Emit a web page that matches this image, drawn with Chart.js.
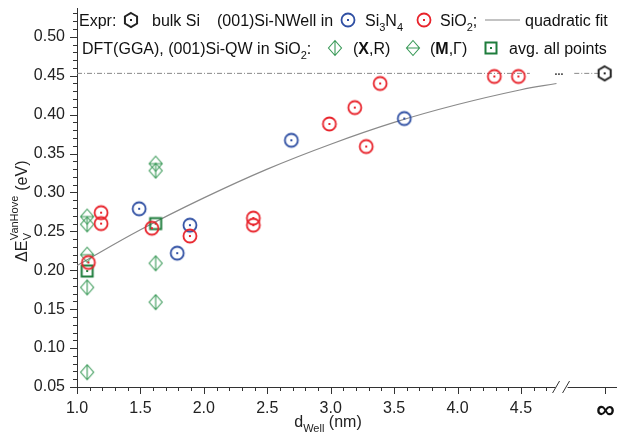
<!DOCTYPE html>
<html>
<head>
<meta charset="utf-8">
<script src="https://cdn.jsdelivr.net/npm/chart.js@4/dist/chart.umd.min.js"></script>
<style>
  html, body { margin: 0; background: #fff; overflow: hidden; }
  #wrap { width: 626px; height: 432px; position: relative; }
  canvas { display: block; }
</style>
</head>
<body>
<div id="wrap"><canvas id="vhChart"></canvas></div>
<script>
// Si-NWell in Si3N4 (experiment)
const nitrideX = [1.49, 1.79, 1.89, 2.69, 3.58];
const nitrideY = [0.279, 0.222, 0.258, 0.367, 0.395];
// Si-NWell in SiO2 (experiment)
const oxideX = [1.09, 1.19, 1.19, 1.59, 1.89, 2.39, 2.39, 2.99, 3.19, 3.28, 3.39, 4.29, 4.48];
const oxideY = [0.21, 0.274, 0.26, 0.254, 0.244, 0.267, 0.258, 0.388, 0.409, 0.359, 0.44, 0.449, 0.449];
// DFT(GGA) Si-QW in SiO2, (X,R)
const xrX = [1.08, 1.08, 1.08, 1.62, 1.62, 1.62];
const xrY = [0.259, 0.178, 0.069, 0.328, 0.209, 0.159];
// DFT(GGA) Si-QW in SiO2, (M,Gamma)
const mgX = [1.08, 1.08, 1.62];
const mgY = [0.269, 0.22, 0.337];
// average of all points
const avgX = [1.08, 1.62];
const avgY = [0.199, 0.26];
// bulk Si (plotted at the infinity position)
const infPos = 5.16;
const bulkX = [infPos];
const bulkY = [0.453];
const bulkLineAX = [1.0, 4.57];
const bulkLineBX = [4.92, 5.12];
// quadratic fit
const fitX = [1.0, 1.5, 2.0, 2.5, 3.0, 3.5, 4.0, 4.5, 4.78];
const fitY = [0.206, 0.252, 0.293, 0.330, 0.362, 0.390, 0.413, 0.432, 0.44];
// axis ticks
const xTickVals = [1.0, 1.5, 2.0, 2.5, 3.0, 3.5, 4.0, 4.5];
const yTickVals = [0.05, 0.10, 0.15, 0.20, 0.25, 0.30, 0.35, 0.40, 0.45, 0.50];

const FONT = '"Liberation Sans", Arial, sans-serif';
const BLUE = '#2f4fa3';
const RED = '#e8232b';
const GREEN = '#3a9a58';
const DKGREEN = '#1e7d3c';

function pts(xs, ys) { return xs.map((x, i) => ({ x: x, y: ys[i] })); }

function makeMarker(kind, color) {
  const c = document.createElement('canvas');
  c.width = 20; c.height = 20;
  const g = c.getContext('2d');
  g.strokeStyle = color; g.fillStyle = color;
  if (kind === 'ring') {
    g.lineWidth = 1.8;
    g.beginPath(); g.arc(10, 10, 6.5, 0, Math.PI * 2); g.stroke();
    g.fillRect(9, 9, 2, 2);
  } else if (kind === 'diaV' || kind === 'diaH') {
    g.lineWidth = 1.1;
    g.beginPath();
    g.moveTo(10, 2.5); g.lineTo(16.5, 10); g.lineTo(10, 17.5); g.lineTo(3.5, 10); g.closePath();
    if (kind === 'diaV') { g.moveTo(10, 2.5); g.lineTo(10, 17.5); }
    else { g.moveTo(3.5, 10); g.lineTo(16.5, 10); }
    g.stroke();
  } else if (kind === 'square') {
    g.lineWidth = 2;
    g.strokeRect(4.5, 4.5, 11, 11);
    g.fillRect(9, 9, 2, 2);
  } else if (kind === 'hex') {
    g.lineWidth = 2;
    g.beginPath();
    for (let k = 0; k < 6; k++) {
      const a = -Math.PI / 2 + k * Math.PI / 3;
      const px = 10 + 7 * Math.cos(a), py = 10 + 7 * Math.sin(a);
      if (k === 0) g.moveTo(px, py); else g.lineTo(px, py);
    }
    g.closePath(); g.stroke();
    g.fillRect(9, 9, 2, 2);
  }
  return c;
}

const mkBlue = makeMarker('ring', BLUE);
const mkRed = makeMarker('ring', RED);
const mkXR = makeMarker('diaV', GREEN);
const mkMG = makeMarker('diaH', GREEN);
const mkAvg = makeMarker('square', DKGREEN);
const mkHex = makeMarker('hex', '#222');

// draw text made of pieces with sub/superscripts, returns end x
function richText(ctx, x, y, parts, size) {
  parts.forEach(p => {
    const s = p.sub || p.sup ? Math.round(size * 0.68) : size;
    ctx.font = (p.bold ? 'bold ' : '') + s + 'px ' + FONT;
    const dy = p.sub ? size * 0.3 : (p.sup ? -size * 0.45 : 0);
    ctx.fillText(p.t, x, y + dy);
    x += ctx.measureText(p.t).width;
  });
  return x;
}

const deco = {
  id: 'deco',
  afterDraw(chart) {
    const { ctx, chartArea: a, scales: { x, y } } = chart;
    ctx.save();
    // tick marks
    ctx.strokeStyle = '#333';
    ctx.lineWidth = 1;
    ctx.beginPath();
    for (let i = 5; i <= 53; i++) {
      const py = Math.round(y.getPixelForValue(i / 100)) + 0.5;
      const len = i % 5 === 0 ? 7 : 4;
      ctx.moveTo(a.left - len, py); ctx.lineTo(a.left, py);
    }
    for (let i = 10; i <= 47; i++) {
      const px = Math.round(x.getPixelForValue(i / 10)) + 0.5;
      const len = i % 5 === 0 ? 7 : 4;
      ctx.moveTo(px, a.bottom); ctx.lineTo(px, a.bottom + len);
    }
    const pInf = Math.round(x.getPixelForValue(infPos)) + 0.5;
    ctx.moveTo(pInf, a.bottom); ctx.lineTo(pInf, a.bottom + 7);
    ctx.stroke();

    // infinity label
    ctx.fillStyle = '#111';
    ctx.font = 'bold 26px ' + FONT;
    ctx.textAlign = 'center';
    ctx.textBaseline = 'alphabetic';
    ctx.fillText('\u221E', pInf, 418);
    ctx.textAlign = 'left';

    // axis break
    const bx = x.getPixelForValue(4.82);
    ctx.fillStyle = '#fff';
    ctx.fillRect(bx - 6, a.bottom - 3, 12, 6);
    ctx.beginPath();
    ctx.moveTo(bx - 9, a.bottom + 6); ctx.lineTo(bx - 2, a.bottom - 6);
    ctx.moveTo(bx + 1, a.bottom + 6); ctx.lineTo(bx + 8, a.bottom - 6);
    ctx.stroke();

    // "..." gap on the bulk line
    ctx.fillStyle = '#111';
    const gy = y.getPixelForValue(bulkY[0]);
    const gx = x.getPixelForValue(4.77);
    for (let k = 0; k < 3; k++) ctx.fillRect(gx + k * 3, gy, 1.5, 1.5);

    // axis titles
    ctx.fillStyle = '#222';
    const tParts = [{ t: 'd' }, { t: 'Well', sub: true }, { t: ' (nm)' }];
    let w = 0;
    tParts.forEach(p => { ctx.font = (p.sub ? 11 : 16) + 'px ' + FONT; w += ctx.measureText(p.t).width; });
    richText(ctx, 328 - w / 2, 427, tParts, 16);

    ctx.save();
    ctx.translate(27, 262);
    ctx.rotate(-Math.PI / 2);
    ctx.font = '16px ' + FONT;
    ctx.fillText('\u0394E', 0, 0);
    const w0 = ctx.measureText('\u0394E').width;
    ctx.font = '11px ' + FONT;
    ctx.fillText('V', w0 + 0.5, 4);
    ctx.fillText('VanHove', w0 + 0.5, -9);
    const w1 = ctx.measureText('VanHove').width;
    ctx.font = '16px ' + FONT;
    ctx.fillText(' (eV)', w0 + w1 + 1, 0);
    ctx.restore();

    // legend
    ctx.fillStyle = '#111';
    const r1 = 26, r2 = 54;
    ctx.font = '16px ' + FONT;
    ctx.fillText('Expr:', 79, r1);
    ctx.drawImage(mkHex, 131 - 10, r1 - 6 - 10);
    ctx.fillText('bulk Si', 152, r1);
    ctx.fillText('(001)Si-NWell in', 217, r1);
    ctx.drawImage(mkBlue, 348 - 10, r1 - 6 - 10);
    richText(ctx, 365, r1, [{ t: 'Si' }, { t: '3', sub: true }, { t: 'N' }, { t: '4', sub: true }], 16);
    ctx.drawImage(mkRed, 424 - 10, r1 - 6 - 10);
    richText(ctx, 440, r1, [{ t: 'SiO' }, { t: '2', sub: true }, { t: ';' }], 16);
    ctx.strokeStyle = '#888'; ctx.lineWidth = 1.2;
    ctx.beginPath(); ctx.moveTo(485, r1 - 6); ctx.lineTo(520, r1 - 6); ctx.stroke();
    ctx.font = '16px ' + FONT;
    ctx.fillText('quadratic fit', 525, r1);

    richText(ctx, 82, r2, [{ t: 'DFT(GGA), (001)Si-QW in SiO' }, { t: '2', sub: true }, { t: ':' }], 16);
    ctx.drawImage(mkXR, 335 - 10, r2 - 6 - 10);
    richText(ctx, 353, r2, [{ t: '(' }, { t: 'X', bold: true }, { t: ',R)' }], 16);
    ctx.drawImage(mkMG, 413 - 10, r2 - 6 - 10);
    richText(ctx, 430, r2, [{ t: '(' }, { t: 'M', bold: true }, { t: ',\u0393)' }], 16);
    ctx.drawImage(mkAvg, 491 - 10, r2 - 6 - 10);
    ctx.font = '16px ' + FONT;
    ctx.fillText('avg. all points', 509, r2);
    ctx.restore();
  }
};

const ctx = document.getElementById('vhChart').getContext('2d');
new Chart(ctx, {
  type: 'scatter',
  data: {
    datasets: [
      { label: 'SiO2', data: pts(oxideX, oxideY), pointStyle: mkRed, pointRadius: 7 },
      { label: 'Si3N4', data: pts(nitrideX, nitrideY), pointStyle: mkBlue, pointRadius: 7 },
      { label: 'avg. all points', data: pts(avgX, avgY), pointStyle: mkAvg, pointRadius: 7 },
      { label: '(X,R)', data: pts(xrX, xrY), pointStyle: mkXR, pointRadius: 7 },
      { label: '(M,G)', data: pts(mgX, mgY), pointStyle: mkMG, pointRadius: 7 },
      { label: 'bulk Si', data: pts(bulkX, bulkY), pointStyle: mkHex, pointRadius: 7 },
      { label: 'quadratic fit', data: pts(fitX, fitY), showLine: true, tension: 0.4,
        borderColor: '#8a8a8a', borderWidth: 1.2, pointRadius: 0 },
      { label: 'bulk a', data: pts(bulkLineAX, bulkLineAX.map(() => bulkY[0])), showLine: true,
        borderColor: '#888', borderWidth: 1, borderDash: [5, 2, 1, 2], pointRadius: 0 },
      { label: 'bulk b', data: pts(bulkLineBX, bulkLineBX.map(() => bulkY[0])), showLine: true,
        borderColor: '#888', borderWidth: 1, borderDash: [5, 2, 1, 2], pointRadius: 0 }
    ]
  },
  options: {
    responsive: true,
    maintainAspectRatio: false,
    animation: false,
    layout: { padding: { top: 7, right: 0, left: 0, bottom: 0 } },
    plugins: { legend: { display: false }, tooltip: { enabled: false } },
    scales: {
      x: {
        type: 'linear', min: 1.0, max: 5.265,
        grid: { display: false, drawTicks: false },
        border: { display: true, color: '#333', width: 1 },
        afterBuildTicks: s => { s.ticks = xTickVals.map(v => ({ value: v })); },
        afterFit: s => { s.height = 45; s.paddingLeft = 0; s.paddingRight = 0; },
        ticks: {
          padding: 12, color: '#222',
          font: { family: FONT, size: 16 },
          callback: v => v.toFixed(1)
        }
      },
      y: {
        type: 'linear', min: 0.05, max: 0.537,
        grid: { display: false, drawTicks: false },
        border: { display: true, color: '#333', width: 1 },
        afterBuildTicks: s => { s.ticks = yTickVals.map(v => ({ value: v })); },
        afterFit: s => { s.width = 77; s.paddingTop = 0; s.paddingBottom = 0; },
        ticks: {
          padding: 12, color: '#222',
          font: { family: FONT, size: 16 },
          callback: v => v.toFixed(2)
        }
      }
    }
  },
  plugins: [deco]
});
</script>
</body>
</html>
